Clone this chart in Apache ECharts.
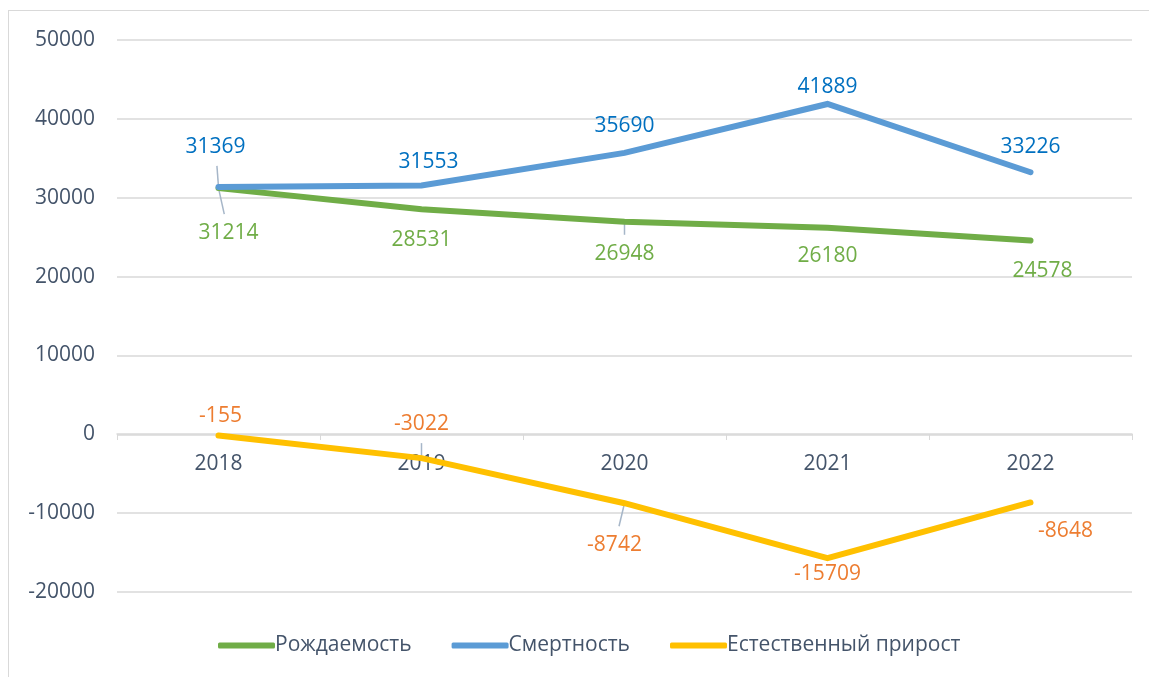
<!DOCTYPE html>
<html>
<head>
<meta charset="utf-8">
<script src="https://cdn.jsdelivr.net/npm/echarts@6/dist/echarts.min.js"></script>
<style>
  html, body { margin: 0; padding: 0; background: #fff; }
  #frame { position: absolute; left: 8px; top: 10px; width: 1160px; height: 700px; border: 1px solid #D9D9D9; }
  #main { position: absolute; left: 0; top: 0; width: 1149px; height: 677px; }
</style>
</head>
<body>
<div id="frame"></div>
<div id="main"></div>
<script>
var years = ["2018", "2019", "2020", "2021", "2022"];
var births = [31214, 28531, 26948, 26180, 24578];
var deaths = [31369, 31553, 35690, 41889, 33226];
var growth = [-155, -3022, -8742, -15709, -8648];
// label shift (dx, dy) from the point
var birthsOffset = [[10, 45], [0, 31], [0, 32], [0, 28], [12, 31]];
var deathsOffset = [[-3, -40], [7, -23], [0, -27], [0, -17], [0, -25]];
var growthOffset = [[2, -19], [0, -34], [-10, 42], [0, 16], [35, 29]];
// points that get a leader line
var birthsLeader = [true, false, true, false, false];
var deathsLeader = [true, false, false, false, false];
var growthLeader = [false, true, true, false, false];

var chartDom = document.getElementById("main");
var myChart = echarts.init(chartDom);
var font = "'Open Sans', 'Noto Sans', sans-serif";

function lineSeries(name, values, offsets, lineColor, labelColor) {
  return {
    name: name,
    type: "line",
    data: values,
    symbol: "circle",
    symbolSize: 0,
    z: 3,
    lineStyle: { color: lineColor, width: 6, cap: "round", join: "miter" },
    itemStyle: { color: lineColor },
    label: {
      show: true,
      position: "inside",
      color: labelColor,
      fontSize: 21,
      fontFamily: font,
    },
    labelLayout: function (params) {
      var o = offsets[params.dataIndex];
      return { dx: o[0], dy: o[1] };
    },
    emphasis: { disabled: true },
  };
}

// leader lines: [category index, value, label dx, label dy]
var leaderData = [];
[[births, birthsOffset, birthsLeader], [deaths, deathsOffset, deathsLeader], [growth, growthOffset, growthLeader]]
  .forEach(function (s) {
    s[0].forEach(function (v, i) {
      if (s[2][i]) leaderData.push([i, v, s[1][i][0], s[1][i][1]]);
    });
  });

var option = {
  animation: false,
  grid: { left: 117, right: 17, top: 40, bottom: 85 },
  legend: {
    bottom: 16,
    left: 213,
    icon: "roundRect",
    itemWidth: 57,
    itemHeight: 6,
    itemGap: 40,
    textStyle: { color: "#44546A", fontSize: 21, fontFamily: font, padding: [0, 0, 0, -5] },
    data: ["Рождаемость", "Смертность", "Естественный прирост"],
  },
  xAxis: {
    type: "category",
    data: years,
    offset: -158,
    axisLine: { onZero: false, lineStyle: { color: "#D9D9D9", width: 1.5 } },
    axisTick: { show: true, length: 6, lineStyle: { color: "#D9D9D9" } },
    axisLabel: { color: "#44546A", fontSize: 21, fontFamily: font, margin: 20 },
  },
  yAxis: {
    type: "value",
    min: -20000,
    max: 50000,
    interval: 10000,
    axisLine: { show: false },
    axisTick: { show: false },
    splitLine: { lineStyle: { color: "#D9D9D9", width: 1.5 } },
    axisLabel: {
      color: "#44546A",
      fontSize: 21,
      fontFamily: font,
      margin: 22,
      formatter: function (v) { return String(v); },
    },
  },
  series: [
    lineSeries("Рождаемость", births, birthsOffset, "#70AD47", "#70AD47"),
    lineSeries("Смертность", deaths, deathsOffset, "#5B9BD5", "#0070C0"),
    lineSeries("Естественный прирост", growth, growthOffset, "#FFC000", "#ED7D31"),
    {
      type: "custom",
      silent: true,
      z: 1,
      data: leaderData,
      renderItem: function (params, api) {
        var p = api.coord([api.value(0), api.value(1)]);
        var dx = api.value(2), dy = api.value(3);
        var t = (Math.abs(dy) - 19) / Math.abs(dy);
        return {
          type: "line",
          shape: { x1: p[0], y1: p[1], x2: p[0] + dx * t, y2: p[1] + dy * t },
          style: { stroke: "#A6B6C8", lineWidth: 1.5 },
        };
      },
    },
  ],
};
myChart.setOption(option);
</script>
</body>
</html>
